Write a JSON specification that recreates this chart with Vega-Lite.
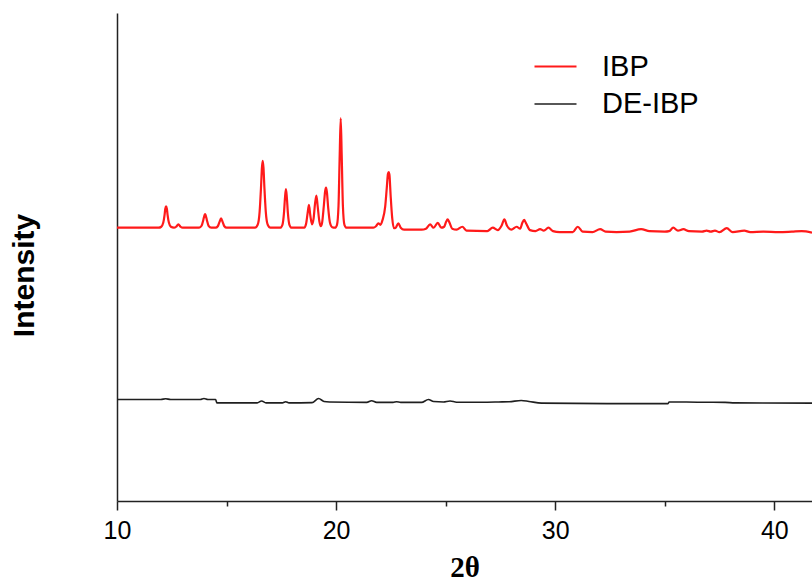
{
  "$schema": "https://vega.github.io/schema/vega-lite/v6.json",
  "width": 695,
  "height": 488,
  "autosize": {"type": "none"},
  "padding": {"left": 117, "top": 13, "right": 0, "bottom": 81},
  "background": "white",
  "config": {
    "view": {"stroke": null},
    "font": "Liberation Sans"
  },
  "data": {
    "values": [
      {"s": "IBP", "x": 10.0, "y": 56.0},
      {"s": "IBP", "x": 11.9, "y": 56.0},
      {"s": "IBP", "x": 12.02, "y": 56.2},
      {"s": "IBP", "x": 12.11, "y": 57.0},
      {"s": "IBP", "x": 12.17, "y": 58.6},
      {"s": "IBP", "x": 12.205, "y": 59.9},
      {"s": "IBP", "x": 12.24, "y": 60.4},
      {"s": "IBP", "x": 12.275, "y": 59.9},
      {"s": "IBP", "x": 12.31, "y": 58.6},
      {"s": "IBP", "x": 12.37, "y": 57.0},
      {"s": "IBP", "x": 12.46, "y": 56.2},
      {"s": "IBP", "x": 12.6, "y": 56.0},
      {"s": "IBP", "x": 12.7, "y": 56.2},
      {"s": "IBP", "x": 12.8, "y": 56.7},
      {"s": "IBP", "x": 12.9, "y": 56.2},
      {"s": "IBP", "x": 13.0, "y": 56.0},
      {"s": "IBP", "x": 13.75, "y": 56.0},
      {"s": "IBP", "x": 13.86, "y": 56.4},
      {"s": "IBP", "x": 13.94, "y": 57.6},
      {"s": "IBP", "x": 13.99, "y": 58.5},
      {"s": "IBP", "x": 14.02, "y": 58.8},
      {"s": "IBP", "x": 14.05, "y": 58.5},
      {"s": "IBP", "x": 14.1, "y": 57.6},
      {"s": "IBP", "x": 14.18, "y": 56.4},
      {"s": "IBP", "x": 14.3, "y": 56.0},
      {"s": "IBP", "x": 14.5, "y": 56.0},
      {"s": "IBP", "x": 14.6, "y": 56.3},
      {"s": "IBP", "x": 14.68, "y": 57.2},
      {"s": "IBP", "x": 14.75, "y": 57.9},
      {"s": "IBP", "x": 14.82, "y": 57.2},
      {"s": "IBP", "x": 14.9, "y": 56.3},
      {"s": "IBP", "x": 15.0, "y": 56.0},
      {"s": "IBP", "x": 16.3, "y": 56.0},
      {"s": "IBP", "x": 16.42, "y": 56.6},
      {"s": "IBP", "x": 16.51, "y": 59.3},
      {"s": "IBP", "x": 16.57, "y": 64.0},
      {"s": "IBP", "x": 16.615, "y": 68.3},
      {"s": "IBP", "x": 16.65, "y": 69.7},
      {"s": "IBP", "x": 16.685, "y": 68.3},
      {"s": "IBP", "x": 16.73, "y": 64.0},
      {"s": "IBP", "x": 16.79, "y": 59.3},
      {"s": "IBP", "x": 16.88, "y": 56.6},
      {"s": "IBP", "x": 17.0, "y": 56.0},
      {"s": "IBP", "x": 17.45, "y": 56.0},
      {"s": "IBP", "x": 17.55, "y": 56.6},
      {"s": "IBP", "x": 17.62, "y": 59.0},
      {"s": "IBP", "x": 17.67, "y": 62.3},
      {"s": "IBP", "x": 17.71, "y": 63.9},
      {"s": "IBP", "x": 17.75, "y": 62.3},
      {"s": "IBP", "x": 17.8, "y": 59.0},
      {"s": "IBP", "x": 17.87, "y": 56.6},
      {"s": "IBP", "x": 17.97, "y": 56.0},
      {"s": "IBP", "x": 18.55, "y": 56.0},
      {"s": "IBP", "x": 18.63, "y": 56.8},
      {"s": "IBP", "x": 18.7, "y": 59.0},
      {"s": "IBP", "x": 18.76, "y": 60.7},
      {"s": "IBP", "x": 18.82, "y": 58.6},
      {"s": "IBP", "x": 18.9, "y": 56.7},
      {"s": "IBP", "x": 18.97, "y": 57.8},
      {"s": "IBP", "x": 19.04, "y": 61.0},
      {"s": "IBP", "x": 19.1, "y": 62.6},
      {"s": "IBP", "x": 19.16, "y": 60.3},
      {"s": "IBP", "x": 19.24, "y": 57.2},
      {"s": "IBP", "x": 19.3, "y": 56.3},
      {"s": "IBP", "x": 19.36, "y": 57.0},
      {"s": "IBP", "x": 19.44, "y": 60.5},
      {"s": "IBP", "x": 19.5, "y": 63.5},
      {"s": "IBP", "x": 19.54, "y": 64.2},
      {"s": "IBP", "x": 19.58, "y": 63.3},
      {"s": "IBP", "x": 19.64, "y": 60.0},
      {"s": "IBP", "x": 19.72, "y": 57.0},
      {"s": "IBP", "x": 19.82, "y": 56.1},
      {"s": "IBP", "x": 19.95, "y": 56.0},
      {"s": "IBP", "x": 20.04, "y": 56.6},
      {"s": "IBP", "x": 20.11, "y": 60.5},
      {"s": "IBP", "x": 20.165, "y": 71.0},
      {"s": "IBP", "x": 20.21, "y": 78.4},
      {"s": "IBP", "x": 20.255, "y": 71.0},
      {"s": "IBP", "x": 20.31, "y": 60.5},
      {"s": "IBP", "x": 20.38, "y": 56.6},
      {"s": "IBP", "x": 20.48, "y": 56.0},
      {"s": "IBP", "x": 21.7, "y": 56.0},
      {"s": "IBP", "x": 21.82, "y": 56.3},
      {"s": "IBP", "x": 21.93, "y": 56.9},
      {"s": "IBP", "x": 22.02, "y": 56.6},
      {"s": "IBP", "x": 22.12, "y": 57.6},
      {"s": "IBP", "x": 22.24, "y": 60.3},
      {"s": "IBP", "x": 22.31, "y": 64.0},
      {"s": "IBP", "x": 22.365, "y": 67.0},
      {"s": "IBP", "x": 22.4, "y": 67.4},
      {"s": "IBP", "x": 22.435, "y": 66.8},
      {"s": "IBP", "x": 22.49, "y": 62.5},
      {"s": "IBP", "x": 22.56, "y": 58.0},
      {"s": "IBP", "x": 22.64, "y": 55.9},
      {"s": "IBP", "x": 22.72, "y": 56.0},
      {"s": "IBP", "x": 22.84, "y": 56.9},
      {"s": "IBP", "x": 22.95, "y": 56.0},
      {"s": "IBP", "x": 23.1, "y": 55.6},
      {"s": "IBP", "x": 23.9, "y": 55.6},
      {"s": "IBP", "x": 24.1, "y": 55.8},
      {"s": "IBP", "x": 24.29, "y": 56.7},
      {"s": "IBP", "x": 24.45, "y": 56.0},
      {"s": "IBP", "x": 24.64, "y": 57.0},
      {"s": "IBP", "x": 24.8, "y": 56.0},
      {"s": "IBP", "x": 24.93, "y": 56.2},
      {"s": "IBP", "x": 25.02, "y": 57.2},
      {"s": "IBP", "x": 25.09, "y": 57.7},
      {"s": "IBP", "x": 25.16, "y": 57.2},
      {"s": "IBP", "x": 25.3, "y": 55.8},
      {"s": "IBP", "x": 25.5, "y": 55.6},
      {"s": "IBP", "x": 25.76, "y": 56.2},
      {"s": "IBP", "x": 25.95, "y": 55.4},
      {"s": "IBP", "x": 26.9, "y": 55.3},
      {"s": "IBP", "x": 27.15, "y": 56.0},
      {"s": "IBP", "x": 27.38, "y": 55.5},
      {"s": "IBP", "x": 27.55, "y": 56.4},
      {"s": "IBP", "x": 27.68, "y": 57.7},
      {"s": "IBP", "x": 27.8, "y": 56.4},
      {"s": "IBP", "x": 28.0, "y": 55.6},
      {"s": "IBP", "x": 28.24, "y": 56.2},
      {"s": "IBP", "x": 28.4, "y": 55.8},
      {"s": "IBP", "x": 28.5, "y": 57.0},
      {"s": "IBP", "x": 28.58, "y": 57.6},
      {"s": "IBP", "x": 28.66, "y": 57.0},
      {"s": "IBP", "x": 28.85, "y": 55.5},
      {"s": "IBP", "x": 29.1, "y": 55.3},
      {"s": "IBP", "x": 29.31, "y": 55.7},
      {"s": "IBP", "x": 29.48, "y": 55.4},
      {"s": "IBP", "x": 29.69, "y": 56.0},
      {"s": "IBP", "x": 29.9, "y": 55.3},
      {"s": "IBP", "x": 30.2, "y": 55.1},
      {"s": "IBP", "x": 30.8, "y": 55.1},
      {"s": "IBP", "x": 31.03, "y": 56.2},
      {"s": "IBP", "x": 31.25, "y": 55.2},
      {"s": "IBP", "x": 31.7, "y": 55.1},
      {"s": "IBP", "x": 32.05, "y": 55.7},
      {"s": "IBP", "x": 32.3, "y": 55.2},
      {"s": "IBP", "x": 32.8, "y": 55.1},
      {"s": "IBP", "x": 33.4, "y": 55.2},
      {"s": "IBP", "x": 33.92, "y": 55.7},
      {"s": "IBP", "x": 34.3, "y": 55.3},
      {"s": "IBP", "x": 35.0, "y": 55.2},
      {"s": "IBP", "x": 35.2, "y": 55.3},
      {"s": "IBP", "x": 35.39, "y": 56.0},
      {"s": "IBP", "x": 35.6, "y": 55.4},
      {"s": "IBP", "x": 35.85, "y": 55.7},
      {"s": "IBP", "x": 36.1, "y": 55.3},
      {"s": "IBP", "x": 36.7, "y": 55.2},
      {"s": "IBP", "x": 36.91, "y": 55.4},
      {"s": "IBP", "x": 37.1, "y": 55.2},
      {"s": "IBP", "x": 37.29, "y": 55.4},
      {"s": "IBP", "x": 37.5, "y": 55.1},
      {"s": "IBP", "x": 37.83, "y": 55.9},
      {"s": "IBP", "x": 38.1, "y": 55.1},
      {"s": "IBP", "x": 38.63, "y": 55.4},
      {"s": "IBP", "x": 38.9, "y": 55.1},
      {"s": "IBP", "x": 39.5, "y": 55.2},
      {"s": "IBP", "x": 40.2, "y": 55.1},
      {"s": "IBP", "x": 40.8, "y": 55.2},
      {"s": "IBP", "x": 41.25, "y": 55.3},
      {"s": "IBP", "x": 41.72, "y": 55.0},
      {"s": "DE-IBP", "x": 10.0, "y": 20.8},
      {"s": "DE-IBP", "x": 12.0, "y": 20.8},
      {"s": "DE-IBP", "x": 12.22, "y": 20.95},
      {"s": "DE-IBP", "x": 12.45, "y": 20.8},
      {"s": "DE-IBP", "x": 13.8, "y": 20.8},
      {"s": "DE-IBP", "x": 13.97, "y": 21.0},
      {"s": "DE-IBP", "x": 14.15, "y": 20.8},
      {"s": "DE-IBP", "x": 14.5, "y": 20.8},
      {"s": "DE-IBP", "x": 14.56, "y": 20.1},
      {"s": "DE-IBP", "x": 16.4, "y": 20.1},
      {"s": "DE-IBP", "x": 16.6, "y": 20.5},
      {"s": "DE-IBP", "x": 16.8, "y": 20.1},
      {"s": "DE-IBP", "x": 17.55, "y": 20.1},
      {"s": "DE-IBP", "x": 17.7, "y": 20.35},
      {"s": "DE-IBP", "x": 17.85, "y": 20.1},
      {"s": "DE-IBP", "x": 18.9, "y": 20.15},
      {"s": "DE-IBP", "x": 19.2, "y": 21.0},
      {"s": "DE-IBP", "x": 19.45, "y": 20.4},
      {"s": "DE-IBP", "x": 19.7, "y": 20.3},
      {"s": "DE-IBP", "x": 21.4, "y": 20.2},
      {"s": "DE-IBP", "x": 21.62, "y": 20.55},
      {"s": "DE-IBP", "x": 21.85, "y": 20.2},
      {"s": "DE-IBP", "x": 22.6, "y": 20.2},
      {"s": "DE-IBP", "x": 22.76, "y": 20.35},
      {"s": "DE-IBP", "x": 22.95, "y": 20.2},
      {"s": "DE-IBP", "x": 23.9, "y": 20.2},
      {"s": "DE-IBP", "x": 24.21, "y": 20.8},
      {"s": "DE-IBP", "x": 24.45, "y": 20.4},
      {"s": "DE-IBP", "x": 24.9, "y": 20.3},
      {"s": "DE-IBP", "x": 25.2, "y": 20.5},
      {"s": "DE-IBP", "x": 25.5, "y": 20.25},
      {"s": "DE-IBP", "x": 26.9, "y": 20.25},
      {"s": "DE-IBP", "x": 27.42, "y": 20.3},
      {"s": "DE-IBP", "x": 27.9, "y": 20.35},
      {"s": "DE-IBP", "x": 28.45, "y": 20.6},
      {"s": "DE-IBP", "x": 28.8, "y": 20.4},
      {"s": "DE-IBP", "x": 29.38, "y": 20.05},
      {"s": "DE-IBP", "x": 32.37, "y": 19.95},
      {"s": "DE-IBP", "x": 35.15, "y": 19.95},
      {"s": "DE-IBP", "x": 35.2, "y": 20.3},
      {"s": "DE-IBP", "x": 36.5, "y": 20.25},
      {"s": "DE-IBP", "x": 37.75, "y": 20.2},
      {"s": "DE-IBP", "x": 38.2, "y": 20.1},
      {"s": "DE-IBP", "x": 41.72, "y": 20.05}
    ]
  },
  "mark": {"type": "line", "clip": true, "strokeJoin": "round", "interpolate": "monotone"},
  "encoding": {
    "x": {
      "field": "x",
      "type": "quantitative",
      "scale": {"domain": [10, 41.72], "nice": false, "zero": false},
      "axis": {
        "title": "2θ",
        "titleFont": "Liberation Serif",
        "titleFontWeight": "bold",
        "titleFontSize": 29,
        "titleColor": "black",
        "titleBaseline": "alphabetic",
        "titleY": 75,
        "values": [10, 15, 20, 25, 30, 35, 40],
        "labelExpr": "datum.value % 10 === 0 ? datum.label : ''",
        "labelFlush": false,
        "labelOverlap": false,
        "labelFontSize": 25,
        "labelColor": "black",
        "labelPadding": 8,
        "labelFont": "Liberation Sans",
        "tickSize": {"condition": {"test": "datum.value % 10 === 0", "value": 9}, "value": 5},
        "tickColor": "#222",
        "tickWidth": 1.5,
        "domainColor": "#222",
        "domainWidth": 1.5,
        "grid": false
      }
    },
    "y": {
      "field": "y",
      "type": "quantitative",
      "scale": {"domain": [0, 100], "nice": false},
      "axis": {
        "title": "Intensity",
        "titleFont": "Liberation Sans",
        "titleFontWeight": "bold",
        "titleFontSize": 30,
        "titleColor": "black",
        "titleAngle": -90,
        "titleBaseline": "middle",
        "titleAlign": "center",
        "titleX": -93,
        "titleY": 262,
        "labels": false,
        "ticks": false,
        "domainColor": "#222",
        "domainWidth": 1.5,
        "grid": false
      }
    },
    "color": {
      "field": "s",
      "type": "nominal",
      "scale": {"domain": ["IBP", "DE-IBP"], "range": ["#ff1a1a", "#1f1f1f"]},
      "legend": {
        "title": null,
        "orient": "none",
        "legendX": 416,
        "legendY": 31,
        "symbolType": "stroke",
        "symbolSize": 1764,
        "symbolStrokeWidth": 1.5,
        "labelFontSize": 29,
        "labelFont": "Liberation Sans",
        "labelColor": "black",
        "labelOffset": 24,
        "rowPadding": -4
      }
    },
    "strokeWidth": {
      "field": "s",
      "type": "nominal",
      "scale": {"domain": ["IBP", "DE-IBP"], "range": [2.2, 1.6]},
      "legend": null
    }
  }
}
